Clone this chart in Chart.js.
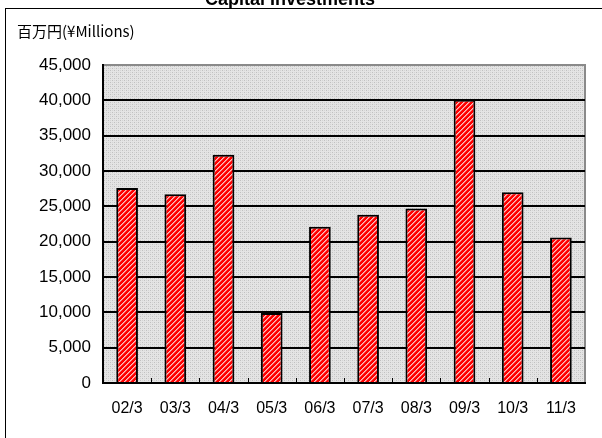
<!DOCTYPE html>
<html>
<head>
<meta charset="utf-8">
<script src="https://cdn.jsdelivr.net/npm/chart.js@4"></script>
<style>
  html, body { margin: 0; padding: 0; background: #fff; }
  #wrap { position: relative; width: 602px; height: 438px; }
</style>
</head>
<body>
<div id="wrap"><canvas id="capex" width="602" height="438"></canvas></div>
<script>
const titleText = 'Capital Investments';
const unitLabel = '百万円(¥Millions)';
const periods = ['02/3', '03/3', '04/3', '05/3', '06/3', '07/3', '08/3', '09/3', '10/3', '11/3'];
const investments = [27600, 26700, 32300, 9900, 22100, 23800, 24700, 40100, 27000, 20600];
const yMax = 45000;
const yStep = 5000;

// hatched red fill for the bars
function makeHatch() {
    const c = document.createElement('canvas');
    c.width = 5; c.height = 5;
    const g = c.getContext('2d');
    g.fillStyle = '#ff0000';
    g.fillRect(0, 0, 5, 5);
    for (let x = 0; x < 5; x++) {
        for (let y = 0; y < 5; y++) {
            const d = (x + y) % 5;
            if (d === 0) { g.fillStyle = '#ffc0c0'; g.fillRect(x, y, 1, 1); }
            else if (d === 1) { g.fillStyle = '#ff7070'; g.fillRect(x, y, 1, 1); }
        }
    }
    return g.createPattern(c, 'repeat');
}

// dotted grey plot background
function makeDots() {
    const c = document.createElement('canvas');
    c.width = 4; c.height = 4;
    const g = c.getContext('2d');
    g.fillStyle = '#e4e4e4';
    g.fillRect(0, 0, 4, 4);
    g.fillStyle = '#c0c0c0';
    g.fillRect(0, 0, 1, 1);
    g.fillRect(2, 2, 1, 1);
    g.fillStyle = '#d4d4d4';
    g.fillRect(2, 0, 1, 1);
    g.fillRect(0, 2, 1, 1);
    return g.createPattern(c, 'repeat');
}

const frame = {
    id: 'frame',
    beforeDraw(chart) {
        const { ctx, chartArea: a } = chart;
        ctx.save();
        // outer box
        ctx.strokeStyle = '#000';
        ctx.lineWidth = 1;
        ctx.strokeRect(5.5, 8.5, 700, 500);
        // title, sits mostly above the visible area
        ctx.fillStyle = '#000';
        ctx.font = 'bold 18px "Liberation Sans", Arial, sans-serif';
        ctx.textAlign = 'center';
        ctx.textBaseline = 'alphabetic';
        ctx.fillText(titleText, 290, 5);
        // unit label
        ctx.font = '15px "Noto Sans CJK JP", "Liberation Sans", sans-serif';
        ctx.textAlign = 'left';
        ctx.textBaseline = 'middle';
        ctx.fillText(unitLabel, 17, 31);
        // plot background + grey frame
        ctx.fillStyle = makeDots();
        ctx.fillRect(a.left, a.top, a.right - a.left, a.bottom - a.top);
        ctx.strokeStyle = '#8a8a8a';
        ctx.lineWidth = 2;
        ctx.strokeRect(a.left, a.top, a.right - a.left, a.bottom - a.top);
        ctx.restore();
    },
    afterDatasetsDraw(chart) {
        const { ctx, chartArea: a, scales: { x } } = chart;
        ctx.save();
        ctx.strokeStyle = '#000';
        ctx.lineWidth = 1;
        for (let i = 1; i < periods.length; i++) {
            const bx = Math.round((x.getPixelForValue(i - 1) + x.getPixelForValue(i)) / 2) + 0.5;
            ctx.beginPath();
            ctx.moveTo(bx, a.bottom);
            ctx.lineTo(bx, a.bottom - 5);
            ctx.stroke();
        }
        ctx.restore();
    }
};

new Chart(document.getElementById('capex').getContext('2d'), {
    type: 'bar',
    data: {
        labels: periods,
        datasets: [{
            data: investments,
            backgroundColor: makeHatch(),
            borderColor: '#000',
            borderWidth: 2,
            borderSkipped: 'start',
            barPercentage: 0.45,
            categoryPercentage: 1
        }]
    },
    options: {
        responsive: false,
        animation: false,
        devicePixelRatio: 1,
        layout: { padding: { left: 0, top: 65, right: 17, bottom: 0 } },
        plugins: {
            legend: { display: false },
            tooltip: { enabled: false }
        },
        scales: {
            x: {
                grid: { display: false, drawTicks: false },
                border: { display: true, color: '#000', width: 2 },
                ticks: {
                    color: '#000',
                    padding: 16,
                    font: { family: '"Liberation Sans", Arial, sans-serif', size: 16 }
                },
                afterFit(s) { s.height = 55; }
            },
            y: {
                min: 0,
                max: yMax,
                grid: {
                    drawTicks: false,
                    color: c => (c.tick && c.tick.value === yMax) ? 'rgba(0,0,0,0)' : '#000',
                    lineWidth: 2
                },
                border: { display: true, color: '#000', width: 2 },
                ticks: {
                    stepSize: yStep,
                    color: '#000',
                    padding: 12,
                    font: { family: '"Liberation Sans", Arial, sans-serif', size: 17 },
                    callback: v => v.toLocaleString('en-US')
                },
                afterFit(s) { s.width = 103; }
            }
        }
    },
    plugins: [frame]
});
</script>
</body>
</html>
